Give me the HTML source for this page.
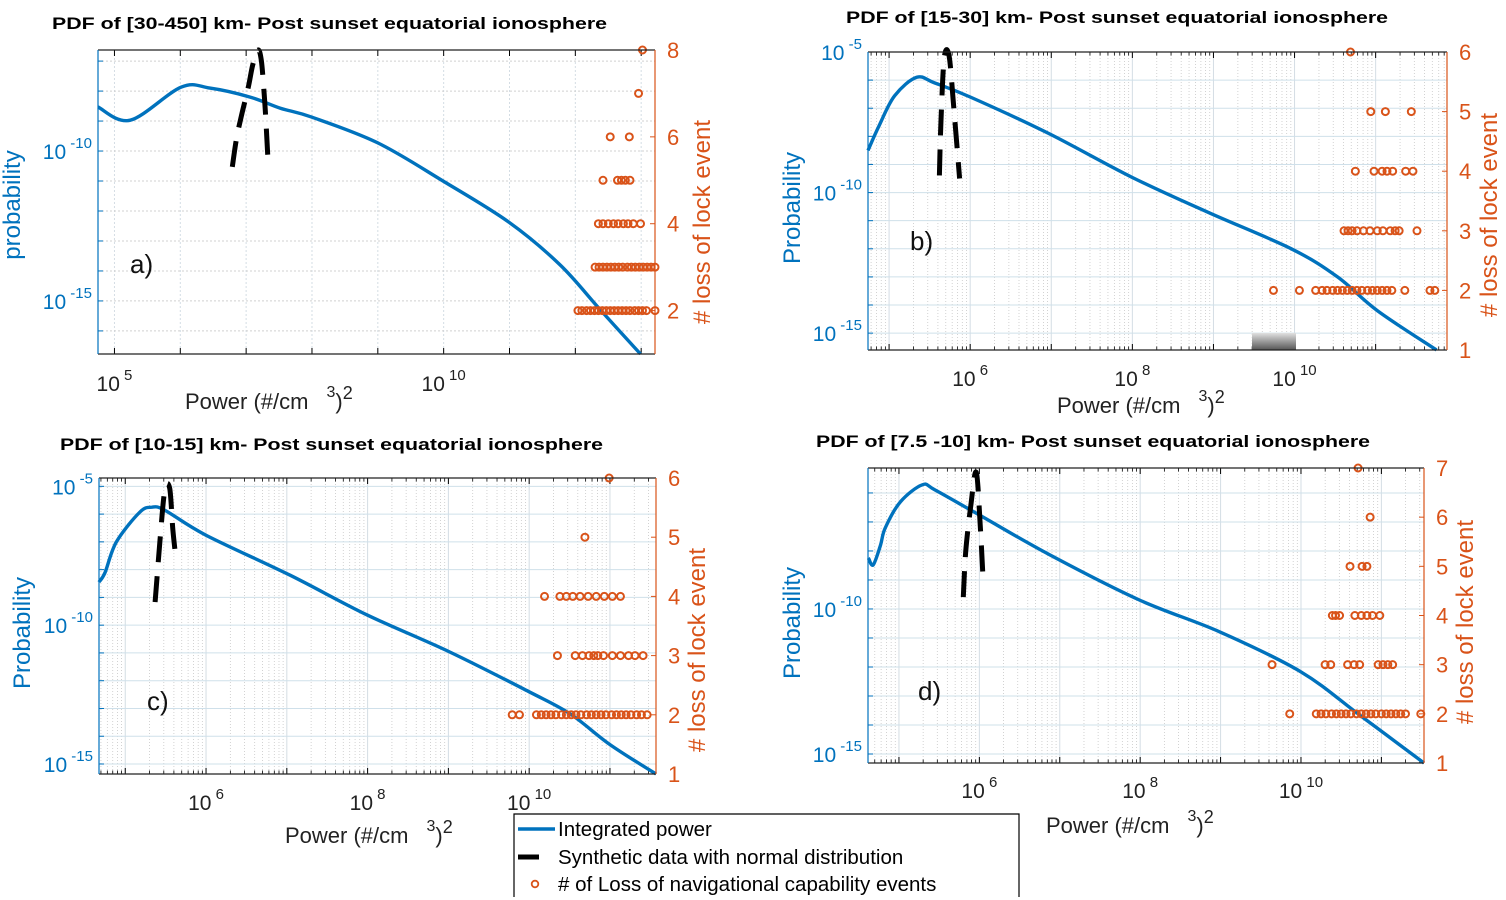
<!DOCTYPE html>
<html><head><meta charset="utf-8"><style>
html,body{margin:0;padding:0;background:#fff;}
svg{display:block;font-family:"Liberation Sans",Arial,sans-serif;}
</style></head><body>
<svg id="fig" width="1506" height="900" viewBox="0 0 1506 900" xmlns="http://www.w3.org/2000/svg">
<rect x="0" y="0" width="1506" height="900" fill="#fff"/>
<g id="legend">
  <path d="M514 897 L514 814 L1019 814 L1019 897" fill="none" stroke="#000" stroke-width="1.2"/>
  <g>
    <line x1="518" y1="829" x2="555" y2="829" stroke="#0072BD" stroke-width="3.5"/>
    <text x="558" y="836" font-size="20.5">Integrated power</text>
  </g>
  <g>
    <line x1="518" y1="857" x2="539" y2="857" stroke="#000" stroke-width="5"/>
    <text x="558" y="864" font-size="20.5">Synthetic data with normal distribution</text>
  </g>
  <g>
    <circle cx="535" cy="884" r="3.3" fill="none" stroke="#D95319" stroke-width="1.8"/>
    <text x="558" y="891" font-size="20.5"># of Loss of navigational capability events</text>
  </g>
</g>
</svg>
<script>
// ---------- DATA (log10 power, log10 probability, counts) ----------
const aLogPower = [4.75,5.24,6.01,6.45,7.06,7.52,8.0,9.0,9.99,10.99,11.77,12.38,12.99];
const aLogProb  = [-8.53,-8.97,-7.87,-7.9,-8.2,-8.57,-8.87,-9.73,-11.0,-12.37,-13.8,-15.3,-16.77];
const aSynPower = [6.79,6.85,6.92,7.03,7.10,7.18,7.23,7.27,7.30,7.33];
const aSynProb  = [-10.53,-9.63,-8.9,-7.9,-7.13,-6.63,-6.97,-7.97,-8.97,-10.23];
const aEvtPower = [13.02, 12.96, 12.53,12.82, 12.42,12.64,12.70,12.76,12.83,
  12.35,12.42,12.50,12.58,12.65,12.73,12.80,12.88,12.99,
  12.30,12.36,12.42,12.48,12.54,12.60,12.66,12.72,12.79,12.85,12.91,12.97,13.03,13.09,13.15,13.21,
  12.04,12.10,12.17,12.23,12.29,12.35,12.41,12.47,12.53,12.59,12.65,12.71,12.77,12.83,12.90,12.96,13.02,13.08,13.21];
const aEvtCount = [8, 7, 6,6, 5,5,5,5,5,
  4,4,4,4,4,4,4,4,4,
  3,3,3,3,3,3,3,3,3,3,3,3,3,3,3,3,
  2,2,2,2,2,2,2,2,2,2,2,2,2,2,2,2,2,2,2];

const bLogPower = [4.74,4.88,5.07,5.34,5.56,6.0,6.97,7.99,8.93,9.96,10.53,11.02,11.75];
const bLogProb  = [-8.5,-7.6,-6.55,-5.9,-6.1,-6.6,-7.9,-9.45,-10.7,-12.0,-13.0,-14.2,-15.6];
const bSynPower = [5.62,5.64,5.68,5.74,5.80,5.87];
const bSynProb  = [-9.39,-7.43,-5.21,-5.14,-7.07,-9.5];
const bEvtPower = [10.69, 10.94,11.12,11.44,
  10.75,10.98,11.08,11.14,11.21,11.37,11.46,
  10.61,10.66,10.71,10.77,10.85,10.93,11.02,11.09,11.18,11.24,11.29,11.51,
  9.74,10.06,10.26,10.34,10.40,10.47,10.53,10.59,10.65,10.71,10.77,10.83,10.90,10.96,11.02,11.08,11.14,11.20,11.36,11.67,11.73];
const bEvtCount = [6, 5,5,5,
  4,4,4,4,4,4,4,
  3,3,3,3,3,3,3,3,3,3,3,3,
  2,2,2,2,2,2,2,2,2,2,2,2,2,2,2,2,2,2,2,2,2];

const cLogPower = [4.675,4.75,4.89,5.18,5.33,5.49,6.0,7.04,8.0,9.02,10.0,10.51,11.0,11.57];
const cLogProb  = [-8.45,-8.1,-7.0,-5.93,-5.75,-5.86,-6.76,-8.2,-9.64,-10.97,-12.4,-13.2,-14.3,-15.36];
const cSynPower = [5.37,5.43,5.49,5.55,5.59,5.63];
const cSynProb  = [-9.17,-6.94,-5.14,-5.07,-6.58,-7.66];
const cEvtPower = [10.99, 10.69,
  10.19,10.38,10.46,10.54,10.63,10.73,10.83,10.93,11.03,11.13,
  10.35,10.57,10.66,10.74,10.80,10.85,10.92,11.03,11.13,11.23,11.31,11.41,
  9.79,9.88,10.09,10.15,10.21,10.27,10.33,10.40,10.46,10.52,10.58,10.64,10.71,10.77,10.83,10.89,10.95,11.02,11.08,11.14,11.20,11.26,11.33,11.39,11.46];
const cEvtCount = [6, 5,
  4,4,4,4,4,4,4,4,4,4,
  3,3,3,3,3,3,3,3,3,3,3,3,
  2,2,2,2,2,2,2,2,2,2,2,2,2,2,2,2,2,2,2,2,2,2,2,2,2];

const dLogPower = [4.62,4.68,4.77,4.83,5.02,5.29,5.45,6.0,6.88,7.99,8.99,10.0,10.73,11.53];
const dLogProb  = [-8.24,-8.48,-7.8,-7.2,-6.3,-5.72,-5.9,-6.76,-8.14,-9.69,-10.79,-12.17,-13.66,-15.31];
const dSynPower = [5.80,5.83,5.89,5.96,6.01,6.05];
const dSynProb  = [-9.59,-8.03,-6.52,-5.28,-7.1,-9.17];
const dEvtPower = [10.71, 10.86, 10.61,10.76,10.82,
  10.39,10.43,10.48,10.67,10.75,10.82,10.89,10.98,
  9.64,10.30,10.37,10.58,10.66,10.73,10.96,11.02,11.08,11.14,
  9.86,10.19,10.25,10.31,10.38,10.44,10.50,10.56,10.62,10.69,10.75,10.81,10.87,10.93,11.00,11.06,11.12,11.18,11.24,11.30,11.49];
const dEvtCount = [7, 6, 5,5,5,
  4,4,4,4,4,4,4,4,
  3,3,3,3,3,3,3,3,3,3,
  2,2,2,2,2,2,2,2,2,2,2,2,2,2,2,2,2,2,2,2,2];

const aXTicks = [5,10];
const bXTicks = [6,8,10];
const cXTicks = [6,8,10];
const dXTicks = [6,8,10];
const aYTicks = [-10,-15];
const bYTicks = [-5,-10,-15];
const cYTicks = [-5,-10,-15];
const dYTicks = [-10,-15];
const aRTicks = [2,4,6,8];
const bRTicks = [1,2,3,4,5,6];
const cRTicks = [1,2,3,4,5,6];
const dRTicks = [1,2,3,4,5,6,7];

// ---------- RENDER ----------
const NS = "http://www.w3.org/2000/svg";
const svg = document.getElementById('fig');
const legend = document.getElementById('legend');
const BLUE = "#0072BD", ORANGE = "#D95319";
function mk(tag, attrs, parent){
  const e = document.createElementNS(NS, tag);
  for (const k in attrs) e.setAttribute(k, attrs[k]);
  (parent || svg).appendChild(e);
  return e;
}
function smoothPath(pts){
  let d = 'M' + pts[0][0].toFixed(1) + ',' + pts[0][1].toFixed(1);
  for (let i = 0; i < pts.length - 1; i++) {
    const p0 = pts[i-1] || pts[i], p1 = pts[i], p2 = pts[i+1], p3 = pts[i+2] || p2;
    const c1x = p1[0] + (p2[0]-p0[0])/6, c1y = p1[1] + (p2[1]-p0[1])/6;
    const c2x = p2[0] - (p3[0]-p1[0])/6, c2y = p2[1] - (p3[1]-p1[1])/6;
    d += ' C' + c1x.toFixed(1)+','+c1y.toFixed(1)+' '+c2x.toFixed(1)+','+c2y.toFixed(1)+' '+p2[0].toFixed(1)+','+p2[1].toFixed(1);
  }
  return d;
}
function pow10(parent, x, y, exp, color, anchor, size){
  const t = mk('text', {x:x, y:y, fill:color, 'font-size':size||21, 'text-anchor':anchor||'middle'}, parent);
  const a = document.createElementNS(NS,'tspan'); a.textContent = '10'; t.appendChild(a);
  const b = document.createElementNS(NS,'tspan'); b.setAttribute('dy','-11'); b.setAttribute('font-size','15'); b.textContent = ' ' + exp; t.appendChild(b);
  return t;
}

const panels = [
 {id:'a', L:98, R:655, T:50, B:354, xmin:4.75, xmax:13.21, ymin:-16.77, ymax:-6.63, rmin:1, rmax:8,
  px:aLogPower, py:aLogProb, sx:aSynPower, sy:aSynProb, ex:aEvtPower, ec:aEvtCount,
  xt:aXTicks, yt:aYTicks, rt:aRTicks, minor:false,
  title:'PDF of [30-450] km- Post sunset equatorial ionosphere', tx:52, ty:29, tw:555,
  ylab:'probability', ylx:12, yly:205, rlab:'# loss of lock event', rlx:710, rly:222,
  letter:'a)', lx:130, ly:273, xlab:[185,409], xtickY:391},
 {id:'b', L:868, R:1447, T:52, B:350, xmin:4.74, xmax:11.88, ymin:-15.6, ymax:-5, rmin:1, rmax:6,
  px:bLogPower, py:bLogProb, sx:bSynPower, sy:bSynProb, ex:bEvtPower, ec:bEvtCount,
  xt:bXTicks, yt:bYTicks, rt:bRTicks, minor:true,
  title:'PDF of [15-30] km- Post sunset equatorial ionosphere', tx:846, ty:23, tw:542,
  ylab:'Probability', ylx:792, yly:208, rlab:'# loss of lock event', rlx:1497, rly:215,
  letter:'b)', lx:910, ly:250, xlab:[1057,413], xtickY:386},
 {id:'c', L:99, R:656, T:478, B:774, xmin:4.675, xmax:11.57, ymin:-15.36, ymax:-4.7, rmin:1, rmax:6,
  px:cLogPower, py:cLogProb, sx:cSynPower, sy:cSynProb, ex:cEvtPower, ec:cEvtCount,
  xt:cXTicks, yt:cYTicks, rt:cRTicks, minor:true,
  title:'PDF of [10-15] km- Post sunset equatorial ionosphere', tx:60, ty:450, tw:543,
  ylab:'Probability', ylx:22, yly:633, rlab:'# loss of lock event', rlx:705, rly:650,
  letter:'c)', lx:147, ly:710, xlab:[285,843], xtickY:810},
 {id:'d', L:868, R:1424, T:468, B:763, xmin:4.615, xmax:11.53, ymin:-15.31, ymax:-5.14, rmin:1, rmax:7,
  px:dLogPower, py:dLogProb, sx:dSynPower, sy:dSynProb, ex:dEvtPower, ec:dEvtCount,
  xt:dXTicks, yt:dYTicks, rt:dRTicks, minor:true,
  title:'PDF of [7.5 -10] km- Post sunset equatorial ionosphere', tx:816, ty:447, tw:554,
  ylab:'Probability', ylx:792, yly:623, rlab:'# loss of lock event', rlx:1473, rly:622,
  letter:'d)', lx:918, ly:700, xlab:[1046,833], xtickY:798}
];

panels.forEach(p => {
  const g = mk('g', {});
  
  
  const X = v => p.L + (v - p.xmin) / (p.xmax - p.xmin) * (p.R - p.L);
  const Y = v => p.B - (v - p.ymin) / (p.ymax - p.ymin) * (p.B - p.T);
  const YR = v => p.B - (v - p.rmin) / (p.rmax - p.rmin) * (p.B - p.T);

  const grid = mk('g', {}, g);
  
  
  for (let d = Math.ceil(p.xmin); d <= p.xmax; d++) {
    mk('line', {x1:X(d), x2:X(d), y1:p.T, y2:p.B, stroke:'#d4dde4', 'stroke-width':1, 'stroke-dasharray': p.minor ? '' : '2,2'}, grid);
    mk('line', {x1:X(d), x2:X(d), y1:p.B, y2:p.B-6, stroke:'#000', 'stroke-width':1}, grid);
    mk('line', {x1:X(d), x2:X(d), y1:p.T, y2:p.T+6, stroke:'#000', 'stroke-width':1}, grid);
  }
  if (p.minor) {
    for (let d = Math.floor(p.xmin); d <= p.xmax; d++) {
      for (let m = 2; m <= 9; m++) {
        const v = d + Math.log10(m);
        if (v <= p.xmin || v >= p.xmax) continue;
        mk('line', {x1:X(v), x2:X(v), y1:p.T, y2:p.B, stroke:'#c8c8c8', 'stroke-width':0.8, 'stroke-dasharray':'1,2'}, grid);
        mk('line', {x1:X(v), x2:X(v), y1:p.B, y2:p.B-3.5, stroke:'#000', 'stroke-width':0.8}, grid);
        mk('line', {x1:X(v), x2:X(v), y1:p.T, y2:p.T+3.5, stroke:'#000', 'stroke-width':0.8}, grid);
      }
    }
  }
  for (let d = Math.ceil(p.ymin); d <= p.ymax; d++) {
    mk('line', {x1:p.L, x2:p.R, y1:Y(d), y2:Y(d), stroke: p.minor ? '#cfe0ea' : '#d0d0d0', 'stroke-width':1, 'stroke-dasharray': p.minor ? '' : '2,2'}, grid);
    mk('line', {x1:p.L, x2:p.L+5, y1:Y(d), y2:Y(d), stroke:BLUE, 'stroke-width':1}, grid);
  }
  p.rt.forEach(t => mk('line', {x1:p.R-5, x2:p.R, y1:YR(t), y2:YR(t), stroke:ORANGE, 'stroke-width':1}, grid));

  if (p.id === 'b') {
    const defs = mk('defs', {}, g);
    const lg = mk('linearGradient', {id:'smudge', x1:0, y1:0, x2:0, y2:1}, defs);
    mk('stop', {offset:'0', 'stop-color':'#e0e0e0'}, lg);
    mk('stop', {offset:'1', 'stop-color':'#555'}, lg);
    const s = mk('rect', {x:1252, y:333, width:44, height:17, fill:'url(#smudge)'}, g);
    
    
  }

  const pts = p.px.map((v,i) => [X(v), Y(p.py[i])]);
  const line = mk('path', {d: smoothPath(pts), fill:'none', stroke:BLUE, 'stroke-width':3.4, 'stroke-linejoin':'round'}, g);
  
  

  const spts = p.sx.map((v,i) => [X(v), Y(p.sy[i])]);
  const syn = mk('path', {d: smoothPath(spts), fill:'none', stroke:'#000', 'stroke-width':5, 'stroke-dasharray':'26,14'}, g);
  
  

  const ev = mk('g', {}, g);
  
  
  p.ex.forEach((v,i) => {
    const c = mk('circle', {cx:X(v), cy:YR(p.ec[i]), r:3.5, fill:'none', stroke:ORANGE, 'stroke-width':2}, ev);
    
    
  });

  mk('line', {x1:p.L, x2:p.R, y1:p.T, y2:p.T, stroke:'#222', 'stroke-width':1.2}, g);
  mk('line', {x1:p.L, x2:p.R, y1:p.B, y2:p.B, stroke:'#222', 'stroke-width':1.2}, g);
  const la = mk('line', {x1:p.L, x2:p.L, y1:p.T, y2:p.B, stroke:BLUE, 'stroke-width':1.2}, g);
  
  
  const ra = mk('line', {x1:p.R, x2:p.R, y1:p.T, y2:p.B, stroke:ORANGE, 'stroke-width':1.2}, g);
  
  

  p.xt.forEach(t => {
    const e = pow10(g, X(t), p.xtickY, t, '#222', 'middle', 21);
    
    
  });
  p.yt.forEach(t => {
    const e = pow10(g, p.L - 6, Y(t) + 8, t, BLUE, 'end', 21);
    
    
  });
  p.rt.forEach(t => {
    const e = mk('text', {x:p.R + 12, y:YR(t) + 8, fill:ORANGE, 'font-size':22}, g);
    e.textContent = t;
    
    
  });

  const ti = mk('text', {x:p.tx, y:p.ty, 'font-size':17, 'font-weight':'bold', textLength:p.tw, lengthAdjust:'spacingAndGlyphs'}, g);
  ti.textContent = p.title;
  
  

  const yl = mk('text', {x:p.ylx, y:p.yly, fill:BLUE, 'font-size':24, 'text-anchor':'middle', transform:'rotate(-90 '+p.ylx+' '+p.yly+')', dy:'8'}, g);
  yl.textContent = p.ylab;
  
  
  const rl = mk('text', {x:p.rlx, y:p.rly, fill:ORANGE, 'font-size':24, 'text-anchor':'middle', transform:'rotate(-90 '+p.rlx+' '+p.rly+')', dy:'0'}, g);
  rl.textContent = p.rlab;
  
  

  const xl = mk('text', {x:p.xlab[0], y:p.xlab[1], 'font-size':22, fill:'#222'}, g);
  
  
  const t1 = document.createElementNS(NS,'tspan'); t1.textContent = 'Power (#/cm'; xl.appendChild(t1);
  const t2 = document.createElementNS(NS,'tspan'); t2.setAttribute('dx','18'); t2.setAttribute('dy','-12'); t2.setAttribute('font-size','16'); t2.textContent = '3'; xl.appendChild(t2);
  const t3 = document.createElementNS(NS,'tspan'); t3.setAttribute('dy','12'); t3.textContent = ')'; xl.appendChild(t3);
  const t4 = document.createElementNS(NS,'tspan'); t4.setAttribute('dy','-10'); t4.setAttribute('font-size','18'); t4.textContent = '2'; xl.appendChild(t4);

  const le = mk('text', {x:p.lx, y:p.ly, 'font-size':26, fill:'#111'}, g);
  le.textContent = p.letter;
  
  
});
svg.appendChild(legend);
</script>
</body></html>
